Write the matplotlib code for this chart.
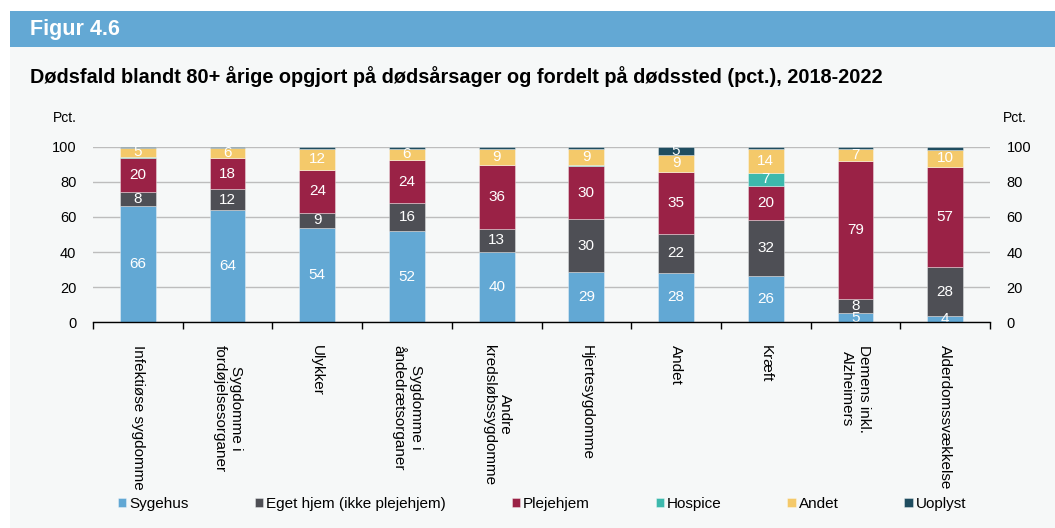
import matplotlib
matplotlib.use("Agg")
import matplotlib.pyplot as plt
from matplotlib.patches import Rectangle
import numpy as np

plt.rcParams['font.family'] = ['Liberation Sans', 'DejaVu Sans']

categories = ["Infektiøse sygdomme", "Sygdomme i\nfordøjelsesorganer", "Ulykker",
              "Sygdomme i\nåndedrætsorganer", "Andre\nkredsløbssygdomme", "Hjertesygdomme",
              "Andet", "Kræft", "Demens inkl.\nAlzheimers", "Alderdomssvækkelse"]
series_names = ["Sygehus", "Eget hjem (ikke plejehjem)", "Plejehjem", "Hospice", "Andet", "Uoplyst"]
sygehus = [66.0, 63.9, 53.9, 52.0, 40.0, 28.6, 28.3, 26.4, 5.1, 3.6]
eget_hjem = [8.0, 11.8, 8.6, 16.1, 13.3, 30.1, 22.2, 31.9, 8.0, 27.7]
plejehjem = [19.7, 17.7, 24.2, 24.1, 36.1, 30.4, 34.9, 19.5, 78.6, 57.3]
hospice = [0.3, 0.2, 0.2, 0.3, 0.2, 0.2, 0.4, 7.2, 0.2, 0.1]
andet = [5.4, 5.6, 11.8, 6.3, 9.1, 9.4, 9.3, 13.7, 6.8, 9.7]
uoplyst = [0.6, 0.8, 1.3, 1.2, 1.3, 1.3, 4.9, 1.3, 1.3, 1.6]
series = [sygehus, eget_hjem, plejehjem, hospice, andet, uoplyst]
colors = ["#62A8D4", "#4E4F55", "#9A2246", "#3DB9AD", "#F4C96A", "#1F4D60"]
yticks = [0, 20, 40, 60, 80, 100]

BG = "#F6F8F8"
HEADER = "#63A8D4"

fig = plt.figure(figsize=(10.55, 5.28), dpi=100)
fig.patch.set_facecolor("white")
# background panel and header band
fig.add_artist(Rectangle((10/1055, 0), 1 - 10/1055, 1 - 47/528, transform=fig.transFigure,
                         facecolor=BG, edgecolor='none', zorder=-2))
fig.add_artist(Rectangle((10/1055, 1 - 47/528), 1 - 10/1055, 36/528, transform=fig.transFigure,
                         facecolor=HEADER, edgecolor='none', zorder=-1))
fig.text(30/1055, 1 - 29/528, "Figur 4.6", color="white", fontsize=15.5, fontweight="bold",
         va="center", ha="left")
fig.text(30/1055, 1 - 77/528,
         "Dødsfald blandt 80+ årige opgjort på dødsårsager og fordelt på dødssted (pct.), 2018-2022",
         color="black", fontsize=14.35, fontweight="bold", va="center", ha="left")

ax = fig.add_axes([93/1055, 1 - 322.3/528, (990 - 93)/1055, 175.6/528])
ax.set_facecolor(BG)
x = np.arange(len(categories))
bottom = np.zeros(len(categories))
for name, vals, col in zip(series_names, series, colors):
    vals = np.array(vals)
    ax.bar(x, vals, bottom=bottom, width=0.40, color=col, label=name,
           edgecolor=(1, 1, 1, 0.5), linewidth=0.5, zorder=3)
    for xi, b, v in zip(x, bottom, vals):
        if v >= 3.5:
            ax.text(xi, b + v / 2, f"{v:.0f}", color="white", ha="center", va="center",
                    fontsize=11, zorder=4)
    bottom += vals

ax.set_xlim(-0.5, len(categories) - 0.5)
ax.set_ylim(0, 100)
ax.set_yticks(yticks)
ax.set_yticklabels([str(t) for t in yticks], fontsize=10.5)
ax.yaxis.grid(True, color="#BDBDBD", linewidth=1.0, zorder=0)
ax.set_axisbelow(True)
ax.tick_params(axis='y', length=0, pad=12, labelright=True, right=False, labelleft=True)
for s in ["left", "right", "top"]:
    ax.spines[s].set_visible(False)
ax.spines["bottom"].set_color("black")
ax.spines["bottom"].set_linewidth(1.0)
ax.spines["bottom"].set_zorder(5)

ax.set_xticks(x)
ax.set_xticklabels(categories, rotation=270, ha="center", va="top",
                   multialignment="center", fontsize=11)
ax.tick_params(axis='x', which='major', length=0, pad=16)
ax.set_xticks(np.arange(-0.5, len(categories)), minor=True)
ax.tick_params(axis='x', which='minor', length=5, width=1, color="black", direction="out")

fig.text(53/1055, 1 - 118/528, "Pct.", fontsize=10, ha="left", va="center")
fig.text(1003/1055, 1 - 118/528, "Pct.", fontsize=10, ha="left", va="center")

handles, labels = ax.get_legend_handles_labels()
leg = fig.legend(handles, labels, loc="center", bbox_to_anchor=(0.514, 1 - 504/528), ncol=6,
                 frameon=False, fontsize=11, handlelength=0.55, handleheight=0.55,
                 handletextpad=0.2, columnspacing=4.3)

fig.savefig("out.png", dpi=100, facecolor=fig.get_facecolor())
